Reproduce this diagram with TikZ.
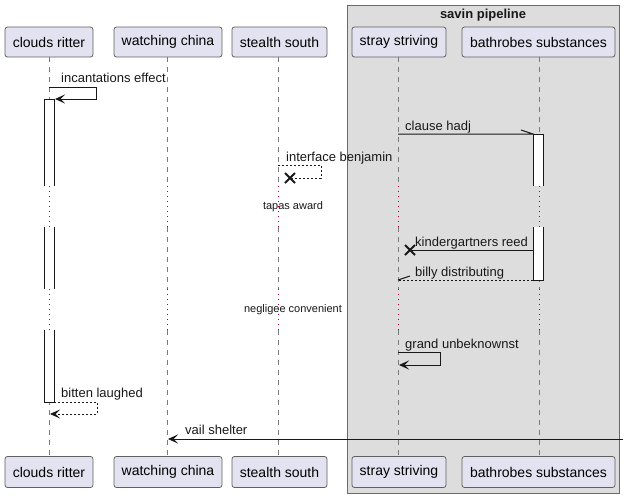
\documentclass[tikz,border=0pt]{standalone}
\usepackage{fontspec}
\setmainfont{Liberation Sans}
\usetikzlibrary{arrows.meta}
\definecolor{pfill}{HTML}{E2E2F0}
\definecolor{pborder}{HTML}{606060}
\definecolor{grpfill}{HTML}{DDDDDD}
\definecolor{grpborder}{HTML}{6A6A6A}
\definecolor{dotc}{HTML}{A80036}
\definecolor{lifec}{HTML}{7A7A7A}
\definecolor{ink}{HTML}{181818}
\begin{document}
\begin{tikzpicture}[x=1pt,y=-1pt,
  part/.style={draw=pborder, fill=pfill, rounded corners=2.5pt, line width=0.8pt,
    minimum height=30pt, inner sep=0pt, font=\fontsize{14}{16}\selectfont},
  lifeline/.style={draw=lifec, line width=0.8pt, dash pattern=on 5pt off 5pt},
  delayline/.style={draw=dotc, line width=1pt, dash pattern=on 1pt off 4pt},
  actside/.style={draw=ink, line width=1pt},
  msg/.style={draw=ink, line width=1pt},
  rmsg/.style={msg, dash pattern=on 2pt off 2pt},
  arr/.style={-{Stealth[length=10pt,width=9pt,inset=4.5pt]}},
  crossmark/.style={draw=ink, line width=2pt},
  lbl/.style={font=\fontsize{13}{15}\selectfont, inner sep=0pt, anchor=base west, text=ink},
  dlbl/.style={font=\fontsize{11}{13}\selectfont, inner sep=0pt, text=ink},
  grouptitle/.style={font=\bfseries\fontsize{13}{15}\selectfont, inner sep=0pt, text=ink},
]
\useasboundingbox (0,0) rectangle (625,498);
\fill[white] (0,0) rectangle (625,498);

% group box
\draw[fill=grpfill, draw=grpborder, line width=1pt] (347,5) rectangle (619,493);
\node[grouptitle] (gtitle) at (483,15) {savin pipeline};

% level coordinates
\coordinate (ya) at (0,57);
\coordinate (yb) at (0,186);
\coordinate (yc) at (0,227);
\coordinate (yd) at (0,289);
\coordinate (ye) at (0,330);
\coordinate (yf) at (0,456);

% lifeline x positions
\coordinate (xcr) at (49,0);
\coordinate (xwc) at (167,0);
\coordinate (xss) at (278,0);
\coordinate (xst) at (398,0);
\coordinate (xbs) at (539,0);

\foreach \p in {xcr,xwc,xss,xst,xbs} {
  \draw[lifeline] (\p |- ya) -- (\p |- yb);
  \draw[delayline] (\p |- yb) -- (\p |- yc);
  \draw[lifeline] (\p |- yc) -- (\p |- yd);
  \draw[delayline] (\p |- yd) -- (\p |- ye);
  \draw[lifeline] (\p |- ye) -- (\p |- yf);
}

% activation boxes
\fill[white] (44,99) rectangle (54,186);
\draw[actside] (44,186) -- (44,99) -- (54,99) -- (54,186);
\fill[white] (44,227) rectangle (54,289);
\draw[actside] (44,227) -- (44,289) (54,227) -- (54,289);
\fill[white] (44,330) rectangle (54,402);
\draw[actside] (44,330) -- (44,402) -- (54,402) -- (54,330);

\fill[white] (533,134) rectangle (543,186);
\draw[actside] (533,186) -- (533,134) -- (543,134) -- (543,186);
\fill[white] (533,227) rectangle (543,280);
\draw[actside] (533,227) -- (533,280) -- (543,280) -- (543,227);

% 1 incantations effect
\coordinate (m1a) at (49,87);
\coordinate (m1b) at (96,87);
\coordinate (m1c) at (55,99);
\draw[msg, arr] (m1a) -- (m1b) |- (m1c);
\node[lbl] (l1) at (61,82) {incantations effect};

% 2 clause hadj
\coordinate (m2a) at (398,134);
\coordinate (m2b) at (533,134);
\draw[msg] (m2a) -- (m2b) -- ++(-12,-4);
\node[lbl] (l2) at (405,130) {clause hadj};

% 3 interface benjamin
\coordinate (m3a) at (278,165);
\coordinate (m3b) at (321,165);
\coordinate (m3c) at (290,178);
\draw[rmsg] (m3a) -- (m3b) |- (m3c);
\draw[crossmark] ([shift={(-5,-5)}]m3c) -- ([shift={(5,5)}]m3c)
                 ([shift={(-5,5)}]m3c) -- ([shift={(5,-5)}]m3c);
\node[lbl] (l3) at (286,161) {interface benjamin};

% delay 1
\node[dlbl] (d1) at (293,207) {tapas award};

% 4 kindergartners reed
\coordinate (m4a) at (533,250);
\coordinate (m4b) at (410,250);
\draw[msg] (m4a) -- (m4b);
\draw[crossmark] ([shift={(-5,-5)}]m4b) -- ([shift={(5,5)}]m4b)
                 ([shift={(-5,5)}]m4b) -- ([shift={(5,-5)}]m4b);
\node[lbl] (l4) at (415,246) {kindergartners reed};

% 5 billy distributing
\coordinate (m5a) at (533,280);
\coordinate (m5b) at (398,280);
\draw[rmsg] (m5a) -- (m5b);
\draw[msg] (m5b) -- ++(12,-4);
\node[lbl] (l5) at (415,276) {billy distributing};

% delay 2
\node[dlbl] (d2) at (293,310) {negligee convenient};

% 6 grand unbeknownst
\coordinate (m6a) at (398,352);
\coordinate (m6b) at (440,352);
\coordinate (m6c) at (399,365);
\draw[msg, arr] (m6a) -- (m6b) |- (m6c);
\node[lbl] (l6) at (405,348) {grand unbeknownst};

% 7 bitten laughed
\coordinate (m7a) at (54,402);
\coordinate (m7b) at (97,402);
\coordinate (m7c) at (50,414);
\draw[rmsg, arr] (m7a) -- (m7b) |- (m7c);
\node[lbl] (l7) at (61,397) {bitten laughed};

% 8 vail shelter
\coordinate (m8a) at (623,439);
\coordinate (m8b) at (168,439);
\draw[msg, arr] (m8a) -- (m8b);
\node[lbl] (l8) at (185,434) {vail shelter};

% participants
\node[part, minimum width=88pt] (cr) at (49,42) {clouds ritter};
\node[part, minimum width=108pt] (wc) at (168,42) {watching china};
\node[part, minimum width=95pt] (ss) at (279.5,42) {stealth south};
\node[part, minimum width=94pt] (st) at (399,42) {stray striving};
\node[part, minimum width=153pt] (bs) at (538.5,42) {bathrobes substances};

\node[part, minimum width=88pt, minimum height=31pt] (crb) at (49,472) {clouds ritter};
\node[part, minimum width=108pt, minimum height=31pt] (wcb) at (168,472) {watching china};
\node[part, minimum width=95pt, minimum height=31pt] (ssb) at (279.5,472) {stealth south};
\node[part, minimum width=94pt, minimum height=31pt] (stb) at (399,472) {stray striving};
\node[part, minimum width=153pt, minimum height=31pt] (bsb) at (538.5,472) {bathrobes substances};
\end{tikzpicture}
\end{document}
